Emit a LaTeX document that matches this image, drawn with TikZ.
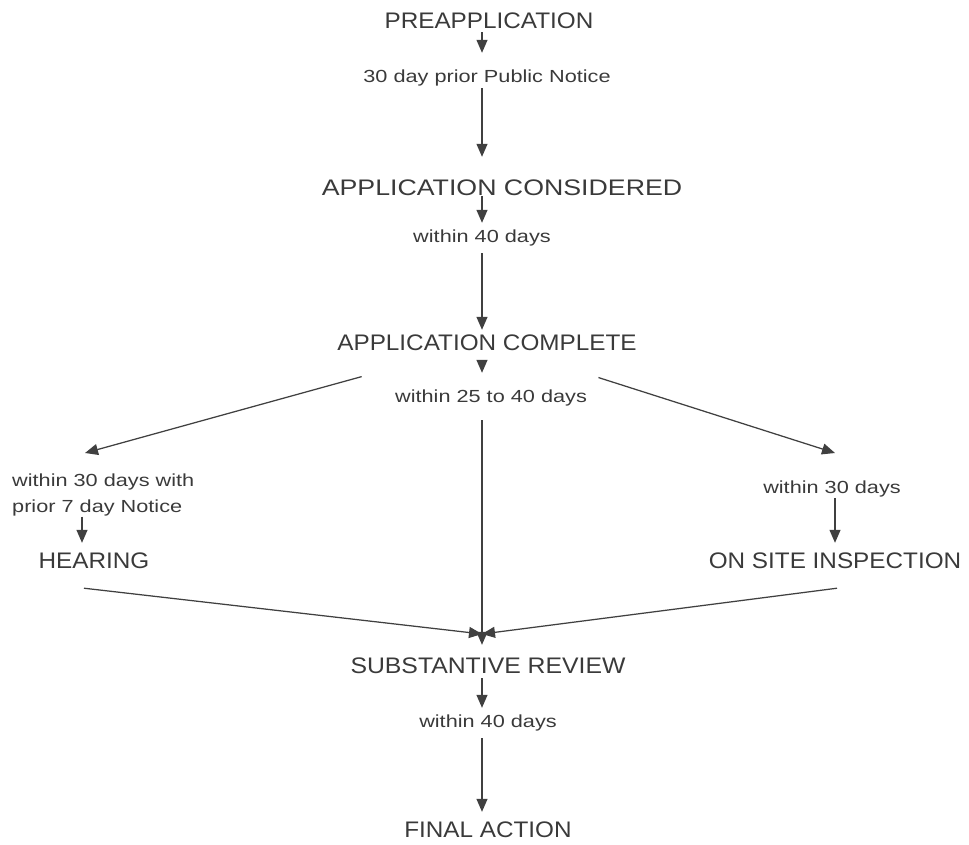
\documentclass[tikz,border=0pt]{standalone}
\usepackage{fontspec}
\usetikzlibrary{arrows.meta}
\newfontfamily\titlefont[FakeStretch=1.08]{Liberation Sans}
\newfontfamily\labelfont[FakeStretch=1.24]{Liberation Sans}
\definecolor{txt}{HTML}{3A3A3A}
\definecolor{ln}{HTML}{404040}
\begin{document}
\begin{tikzpicture}[x=1pt,y=-1pt,
  title/.style={font=\titlefont\fontsize{22.5}{26}\selectfont, text=txt, inner sep=0pt, anchor=base, text height=16pt, text depth=0pt},
  labbase/.style={font=\labelfont\fontsize{17.5}{26}\selectfont, text=txt, inner sep=0pt},
  lab/.style={labbase, anchor=base, text height=13pt, text depth=4pt},
  arr/.style={draw=ln, line width=1.25pt, -{Triangle[length=13pt,width=11pt]}}]
\useasboundingbox (0,0) rectangle (969,844);
\coordinate (ax) at (482,0);
\coordinate (hx) at (82,0);
\coordinate (tl) at (85,453);
\coordinate (tr) at (835,453);
\coordinate (conv) at (482,634);

\node[title] (pre) at (489,28) {PREAPPLICATION};
\node[lab] (pub) at (487,82) {30 day prior Public Notice};
\node[title] (cons) at (502,195) {\scalebox{1.1}[1]{APPLICATION CONSIDERED}};
\node[lab] (w40a) at (482,242) {within 40 days};
\node[title] (comp) at (487,350) {APPLICATION COMPLETE};
\node[lab] (w2540) at (491,402) {within 25 to 40 days};
\node[labbase, anchor=north west, align=left] (wl) at (12,474) {within 30 days with\\prior 7 day Notice};
\node[lab] (wr) at (832,493) {within 30 days};
\node[title] (hear) at (94,568) {HEARING};
\node[title] (site) at (835,568) {ON SITE INSPECTION};
\node[title] (subst) at (488,673) {\scalebox{1.02}[1]{SUBSTANTIVE REVIEW}};
\node[lab] (w40b) at (488,727) {within 40 days};
\node[title] (final) at (488,837) {FINAL ACTION};

\draw[arr, shorten <=4pt, shorten >=16pt] (pre.south -| ax) -- (pub.north -| ax);
\draw[arr, shorten <=2pt, shorten >=22pt] (pub.south -| ax) -- (cons.north -| ax);
\draw[arr, shorten <=1pt, shorten >=6pt] (cons.south -| ax) -- (w40a.north -| ax);
\draw[arr, shorten <=7pt, shorten >=4pt] (w40a.south -| ax) -- (comp.north -| ax);
\draw[arr, shorten <=10pt, shorten >=16pt] (comp.south -| ax) -- (w2540.north -| ax);
\draw[arr, shorten <=130pt] (comp.center) -- (tl);
\draw[arr, shorten <=117pt] (comp.center) -- (tr);
\draw[arr, shorten <=14pt, shorten >=12pt] (w2540.south -| ax) -- (subst.north -| ax);
\draw[arr, shorten >=9pt] (wl.south -| hx) -- (hear.north -| hx);
\draw[arr, shorten <=1pt, shorten >=9pt] (wr.south -| site) -- (site.north);
\draw[arr] ([shift={(-10pt,-20pt)}]hear.south) -- (conv);
\draw[arr] ([shift={(2pt,-20pt)}]site.south) -- (conv);
\draw[arr, shorten <=5pt, shorten >=6pt] (subst.south -| ax) -- (w40b.north -| ax);
\draw[arr, shorten <=7pt, shorten >=9pt] (w40b.south -| ax) -- (final.north -| ax);
\end{tikzpicture}
\end{document}
